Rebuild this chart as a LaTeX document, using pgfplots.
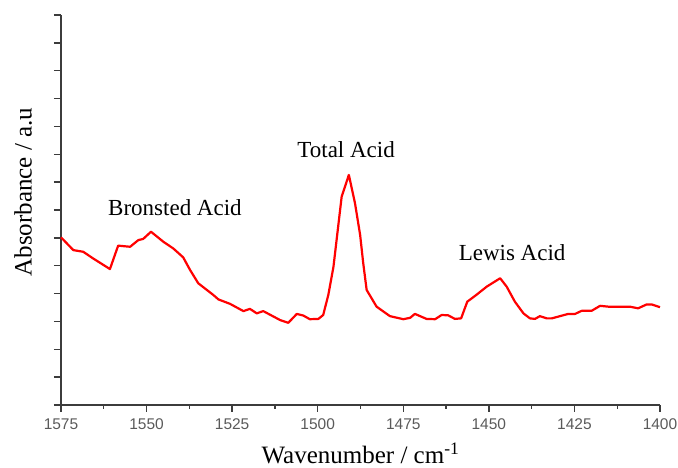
\documentclass[border=0pt]{standalone}
\usepackage{fontspec}
\setmainfont{Liberation Serif}
\newfontfamily\ticksf{Liberation Sans}
\usepackage{pgfplots}
\pgfplotsset{compat=1.18}
\definecolor{axgray}{RGB}{60,60,60}
\definecolor{tickgray}{RGB}{90,90,90}
\begin{document}
\begin{tikzpicture}
\begin{axis}[
  name=main,
  scale only axis,
  width=599pt, height=390pt,
  x dir=reverse,
  xmin=1400, xmax=1575,
  ymin=0, ymax=14,
  xtick={1400,1425,...,1575},
  minor x tick num=1,
  ytick={0,1,...,14},
  yticklabels={},
  axis x line*=bottom,
  axis y line*=left,
  axis line style={-, axgray, line width=1.8pt},
  every tick/.style={axgray, line width=1.4pt},
  tick align=outside,
  major tick length=7pt,
  minor tick length=4pt,
  /pgf/number format/1000 sep={},
  /pgf/number format/assume math mode=true,
  xticklabel style={font=\ticksf\fontsize{15.5}{18}\selectfont, text=tickgray, yshift=-3pt},
  xlabel={Wavenumber / cm\textsuperscript{-1}},
  ylabel={Absorbance / a.u},
  every axis x label/.style={at={(axis description cs:0.5,-0.125)}, anchor=center, font=\fontsize{25}{30}\selectfont},
  every axis y label/.style={at={(axis description cs:-0.063,0.546)}, anchor=center, rotate=90, font=\fontsize{25}{30}\selectfont},
  clip=false,
]
\addplot[red, line width=2.2pt, line join=round] coordinates {
(1575,6.02) (1571.4,5.56) (1568.5,5.50) (1565.6,5.26) (1560.7,4.88)
(1558.3,5.72) (1554.8,5.68) (1552.4,5.92) (1551,5.96) (1548.7,6.22)
(1545.1,5.86) (1542.2,5.62) (1539.3,5.30) (1537.3,4.85) (1534.9,4.37)
(1530.5,3.95) (1529,3.79) (1525.6,3.63) (1521.7,3.37) (1519.8,3.45)
(1517.8,3.29) (1515.9,3.37) (1511,3.05) (1508.6,2.95) (1506.1,3.27)
(1504.2,3.21) (1502.3,3.08) (1499.8,3.09) (1498.4,3.23) (1496.9,3.95)
(1495.4,4.96) (1493,7.48) (1490.9,8.26) (1489.1,7.24) (1487.6,6.1)
(1486.7,5.09) (1485.7,4.13) (1482.8,3.53) (1478.9,3.19) (1475,3.08)
(1473,3.13) (1471.6,3.27) (1468.2,3.09) (1465.7,3.08) (1463.8,3.23)
(1461.9,3.22) (1459.9,3.09) (1458.1,3.11) (1456.3,3.71) (1454.1,3.91)
(1450.6,4.25) (1446.7,4.55) (1444.8,4.25) (1442.4,3.71) (1439.9,3.29)
(1438,3.11) (1436.5,3.09) (1435.1,3.19) (1433.1,3.11) (1431.6,3.11)
(1429.2,3.19) (1426.8,3.27) (1424.8,3.27) (1422.9,3.38) (1420,3.38)
(1417.5,3.56) (1415.1,3.53) (1411.7,3.53) (1408.8,3.53) (1406.4,3.47)
(1403.9,3.61) (1402.4,3.61) (1400,3.51)
};
\node[anchor=base, font=\fontsize{23}{28}\selectfont] at (axis cs:1541.7,6.82) {Bronsted Acid};
\node[anchor=base, font=\fontsize{23}{28}\selectfont] at (axis cs:1491.7,8.90) {Total Acid};
\node[anchor=base, font=\fontsize{23}{28}\selectfont] at (axis cs:1443.2,5.20) {Lewis Acid};
\end{axis}
\pgfresetboundingbox
\path[use as bounding box] ([shift={(-61pt,-63pt)}]main.south west) rectangle ([shift={(617pt,405pt)}]main.south west);
\end{tikzpicture}
\end{document}
